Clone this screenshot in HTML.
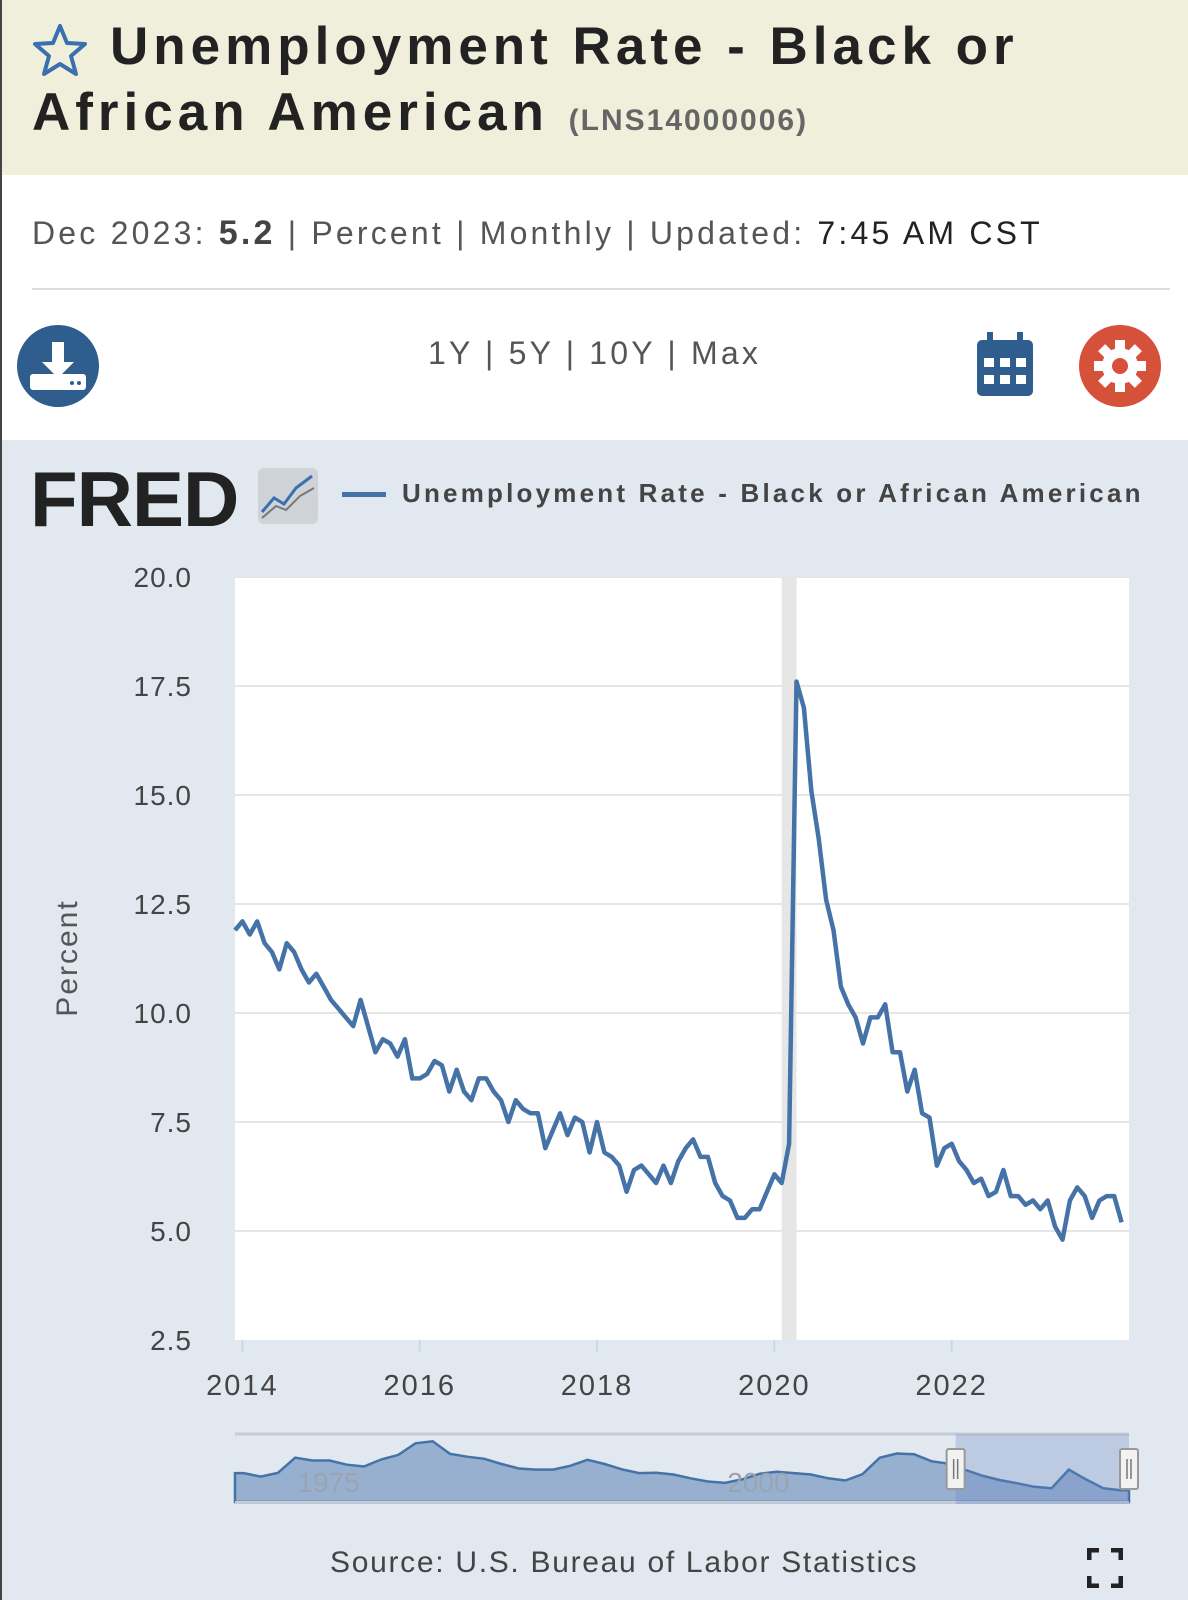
<!DOCTYPE html>
<html><head><meta charset="utf-8"><style>
body{margin:0;width:1188px;height:1600px;overflow:hidden;font-family:"Liberation Sans",sans-serif;background:#fff;position:relative}
.abs{position:absolute}
</style></head><body>
<div class="abs" style="left:0;top:0;width:2px;height:1600px;background:#444"></div>
<div class="abs" style="left:2px;top:0;width:1186px;height:175px;background:#efefdc"></div>
<svg class="abs" style="left:30px;top:22px" width="60" height="56" viewBox="0 0 60 56"><polygon points="30,4 37,21 55,22 41,34 46,52 30,42 14,52 19,34 5,22 23,21" fill="none" stroke="#3a6fb0" stroke-width="4" stroke-linejoin="round"/></svg>
<div class="abs" style="left:32px;top:14px;width:1156px;font-weight:bold;font-size:53px;letter-spacing:5px;line-height:66px;color:#222;white-space:nowrap"><span style="margin-left:78px">Unemployment Rate - Black or</span><br>African American <span style="font-size:30px;letter-spacing:2px;color:#666">(LNS14000006)</span></div>
<div class="abs" style="left:32px;top:214px;font-size:32px;letter-spacing:3.2px;color:#555;white-space:nowrap">Dec 2023: <b style="color:#444;font-size:34px">5.2</b> | Percent | Monthly | Updated: <span style="color:#222">7:45 AM CST</span></div>
<div class="abs" style="left:32px;top:288px;width:1138px;height:2px;background:#ddd"></div>
<svg class="abs" style="left:16px;top:324px" width="84" height="84"><circle cx="42" cy="42" r="41" fill="#2e5d8e"/><rect x="36" y="18" width="12" height="24" fill="#fff"/><polygon points="26,38 58,38 42,54" fill="#fff"/><rect x="14" y="50" width="56" height="16" rx="3" fill="#fff"/><circle cx="56" cy="59" r="2" fill="#2e5d8e"/><circle cx="63" cy="59" r="2" fill="#2e5d8e"/></svg>
<div class="abs" style="left:428px;top:335px;font-size:32px;color:#555;letter-spacing:3.2px;white-space:nowrap">1Y | 5Y | 10Y | Max</div>
<svg class="abs" style="left:975px;top:332px" width="60" height="66"><rect x="2" y="8" width="56" height="56" rx="5" fill="#2e5d8e"/><rect x="12" y="0" width="6" height="14" fill="#2e5d8e"/><rect x="42" y="0" width="6" height="14" fill="#2e5d8e"/><g fill="#fff"><rect x="9" y="26" width="10" height="9"/><rect x="25" y="26" width="10" height="9"/><rect x="41" y="26" width="10" height="9"/><rect x="9" y="43" width="10" height="9"/><rect x="25" y="43" width="10" height="9"/><rect x="41" y="43" width="10" height="9"/></g></svg>
<svg class="abs" style="left:1078px;top:324px" width="84" height="84"><circle cx="42" cy="42" r="41" fill="#d6513a"/><g fill="#fff" transform="translate(42 42)"><rect x="-5" y="-26" width="10" height="52"/><rect x="-5" y="-26" width="10" height="52" transform="rotate(45)"/><rect x="-5" y="-26" width="10" height="52" transform="rotate(90)"/><rect x="-5" y="-26" width="10" height="52" transform="rotate(135)"/><circle r="18"/></g><circle cx="42" cy="42" r="8" fill="#d6513a"/></svg>
<div class="abs" style="left:2px;top:440px;width:1186px;height:1160px;background:#e1e8f0"></div>
<div class="abs" style="left:30px;top:454px;font-weight:900;font-size:78px;letter-spacing:-1px;color:#222">FRED</div>
<svg class="abs" style="left:258px;top:468px" width="60" height="56"><rect width="60" height="56" rx="6" fill="#cfd3d8"/><polyline points="4,44 16,30 26,36 38,20 54,8" fill="none" stroke="#3a6fb0" stroke-width="3"/><polyline points="4,50 18,38 28,42 42,28 56,20" fill="none" stroke="#777" stroke-width="2"/></svg>
<div class="abs" style="left:342px;top:492px;width:44px;height:5px;background:#4572a7"></div>
<div class="abs" style="left:402px;top:478px;font-size:26px;font-weight:bold;color:#444;letter-spacing:3.2px;white-space:nowrap">Unemployment Rate - Black or African American</div>
<svg id="chart" class="abs" style="left:0;top:0" width="1188" height="1600"></svg>
<div class="abs" style="left:330px;top:1546px;font-size:30px;letter-spacing:1.7px;color:#444;white-space:nowrap">Source: U.S. Bureau of Labor Statistics</div>
<svg class="abs" style="left:1087px;top:1548px" width="36" height="40"><g fill="none" stroke="#222" stroke-width="5"><polyline points="2,12 2,2 12,2"/><polyline points="24,2 34,2 34,12"/><polyline points="2,28 2,38 12,38"/><polyline points="24,38 34,38 34,28"/></g></svg>
<script>
const yTicks=[2.5,5.0,7.5,10.0,12.5,15.0,17.5,20.0];
const xTickYears=[2014,2016,2018,2020,2022];
const startYear=2013+11/12;
const values=[11.9,
12.1,11.8,12.1,11.6,11.4,11.0,11.6,11.4,11.0,10.7,10.9,10.6,
10.3,10.1,9.9,9.7,10.3,9.7,9.1,9.4,9.3,9.0,9.4,8.5,
8.5,8.6,8.9,8.8,8.2,8.7,8.2,8.0,8.5,8.5,8.2,8.0,
7.5,8.0,7.8,7.7,7.7,6.9,7.3,7.7,7.2,7.6,7.5,6.8,
7.5,6.8,6.7,6.5,5.9,6.4,6.5,6.3,6.1,6.5,6.1,6.6,
6.9,7.1,6.7,6.7,6.1,5.8,5.7,5.3,5.3,5.5,5.5,5.9,
6.3,6.1,7.0,17.6,17.0,15.1,14.0,12.6,11.9,10.6,10.2,9.9,
9.3,9.9,9.9,10.2,9.1,9.1,8.2,8.7,7.7,7.6,6.5,6.9,
7.0,6.6,6.4,6.1,6.2,5.8,5.9,6.4,5.8,5.8,5.6,5.7,
5.5,5.7,5.1,4.8,5.7,6.0,5.8,5.3,5.7,5.8,5.8,5.2];
const recession=[2020+1/12,2020+3/12];
const navStartYear=1972;
const navValues=[10.4,9.4,10.5,14.8,14.0,14.0,12.8,12.3,14.3,15.6,18.9,19.5,15.9,15.1,14.5,13.0,11.7,11.4,11.4,12.5,14.2,13.0,11.5,10.4,10.5,10.0,8.9,8.0,7.6,8.6,10.2,10.8,10.4,10.0,8.9,8.3,10.1,14.8,16.0,15.8,13.8,13.1,11.3,9.6,8.4,7.5,6.5,6.1,11.4,8.6,6.1,5.5];
const navLabels=[1975,2000];

const svg=document.getElementById('chart');
const NS='http://www.w3.org/2000/svg';
const L=235,R=1129,T=577,B=1340;
const x=t=>L+(t-startYear)/(121/12)*(R-L);
const y=v=>B-(v-2.5)/17.5*(B-T);
function mk(tag,attrs,parent){const e=document.createElementNS(NS,tag);for(const k in attrs)e.setAttribute(k,attrs[k]);(parent||svg).appendChild(e);return e;}
let e=mk('rect',{x:L,y:T,width:R-L,height:B-T,fill:'#fff'});


e=mk('rect',{x:x(recession[0]),y:T,width:x(recession[1])-x(recession[0]),height:B-T,fill:'#e6e6e6'});


yTicks.forEach(v=>{
  if(v>2.5){const g=mk('line',{x1:L,x2:R,y1:y(v),y2:y(v),stroke:'#e6e6e6','stroke-width':2});
  
  }
  const t=mk('text',{x:192,y:y(v)+10,'text-anchor':'end','font-size':28,'letter-spacing':1,fill:'#444','font-family':'Liberation Sans, sans-serif'});
  t.textContent=v.toFixed(1);
  
  
});
xTickYears.forEach(yr=>{
  const l=mk('line',{x1:x(yr),x2:x(yr),y1:B,y2:B+12,stroke:'#ccd6eb','stroke-width':2});
  
  
  const t=mk('text',{x:x(yr),y:B+55,'text-anchor':'middle','font-size':29,'letter-spacing':2,fill:'#444','font-family':'Liberation Sans, sans-serif'});
  t.textContent=yr;
  
  
});
e=mk('text',{x:0,y:0,transform:`translate(77 958) rotate(-90)`,'text-anchor':'middle','font-size':30,'letter-spacing':2,fill:'#555','font-family':'Liberation Sans, sans-serif'});
e.textContent='Percent';


const pts=values.map((v,i)=>x(startYear+i/12).toFixed(1)+','+y(v).toFixed(1)).join(' ');
e=mk('polyline',{points:pts,fill:'none',stroke:'#4572a7','stroke-width':4.5,'stroke-linejoin':'round'});


// navigator
const NT=1434,NB=1502;
const nx=t=>L+(t-navStartYear)/(2024-navStartYear)*(R-L);
const ny=v=>1492-(v-5)*3.5;
e=mk('line',{x1:L,x2:R,y1:NT,y2:NT,stroke:'#c8ccd2','stroke-width':3});


const np=navValues.map((v,i)=>nx(navStartYear+i+0.5).toFixed(1)+','+ny(v).toFixed(1));
e=mk('polygon',{points:L+','+NB+' '+L+','+ny(navValues[0])+' '+np.join(' ')+' '+R+','+ny(navValues[navValues.length-1])+' '+R+','+NB,fill:'#98b0d0',stroke:'#4572a7','stroke-width':2.5});


e=mk('line',{x1:L,x2:R,y1:NB,y2:NB,stroke:'#c8ccd2','stroke-width':2});
navLabels.forEach(yr=>{const t=mk('text',{x:nx(yr)+42,y:1492,'text-anchor':'middle','font-size':28,fill:'#9aa4b0','font-family':'Liberation Sans, sans-serif'});
t.textContent=yr;

});
const selX=nx(startYear);
e=mk('rect',{x:selX,y:NT,width:R-selX,height:NB-NT+2,fill:'rgba(102,133,194,0.3)'});


[selX,R].forEach(hx=>{const h=mk('rect',{x:hx-9,y:1449,width:18,height:40,rx:2,fill:'#f2f2f2',stroke:'#999','stroke-width':2});


mk('line',{x1:hx-2,x2:hx-2,y1:1459,y2:1479,stroke:'#777','stroke-width':1.5});
mk('line',{x1:hx+2,x2:hx+2,y1:1459,y2:1479,stroke:'#777','stroke-width':1.5});});
</script>
</body></html>
